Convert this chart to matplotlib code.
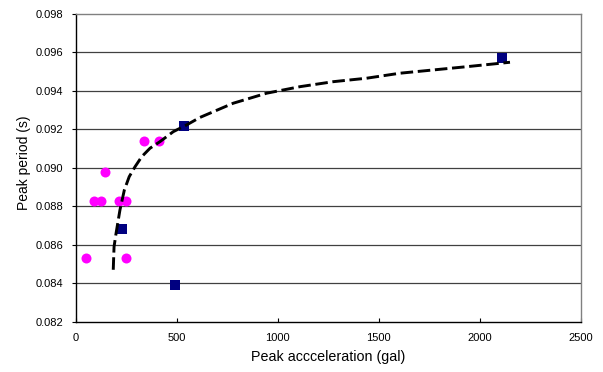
import matplotlib
matplotlib.use("Agg")
import matplotlib.pyplot as plt

plt.rcParams['font.family'] = ['Liberation Sans', 'DejaVu Sans']

# Magenta circles
circ_x = [51, 92, 125, 145, 216, 249, 249, 338, 412]
circ_y = [0.0853, 0.0883, 0.0883, 0.0898, 0.0883, 0.0883, 0.0853, 0.0914, 0.0914]

# Navy squares
sq_x = [229, 490, 535, 2109]
sq_y = [0.0868, 0.0839, 0.0922, 0.0957]

# Dashed trend curve
trend_x = [186, 190, 200, 219, 241, 265, 294, 327, 368, 417, 483, 549, 615,
           780, 945, 1110, 1275, 1440, 1605, 1770, 1936, 2150]
trend_y = [0.0847, 0.0859, 0.0866, 0.0878, 0.08885, 0.08954, 0.09006, 0.09058,
           0.09102, 0.09136, 0.09188, 0.09223, 0.09262, 0.09336, 0.09388,
           0.09422, 0.09448, 0.09466, 0.09492, 0.09509, 0.09526, 0.09549]

xticks = [0, 500, 1000, 1500, 2000, 2500]
yticks = [0.082, 0.084, 0.086, 0.088, 0.090, 0.092, 0.094, 0.096, 0.098]

fig = plt.figure(figsize=(6.03, 3.72), dpi=100)
ax = fig.add_axes([0.1255, 0.1352, 0.963 - 0.1255, 0.9624 - 0.1352])

for yv in yticks[1:-1]:
    ax.axhline(yv, color='#404040', lw=0.9, zorder=1)

ax.plot(circ_x, circ_y, 'o', color='#FF00FF', markersize=7.2, markeredgewidth=0, zorder=3)
ax.plot(sq_x, sq_y, 's', color='#000080', markersize=6.5, markeredgewidth=0, zorder=3)
ax.plot(trend_x, trend_y, color='black', lw=2.1, dashes=(4.3, 1.6), zorder=4)

ax.set_xlim(0, 2500)
ax.set_ylim(0.082, 0.098)
ax.set_xticks(xticks)
ax.set_yticks(yticks)
ax.set_xticklabels([str(v) for v in xticks])
ax.set_yticklabels([f"{v:.3f}" for v in yticks])
ax.tick_params(axis='x', direction='in', length=3, width=0.8, labelsize=8, pad=8)
ax.tick_params(axis='y', direction='out', length=3, width=0.8, labelsize=8, pad=6)

for s in ['left', 'bottom']:
    ax.spines[s].set_color('black')
    ax.spines[s].set_linewidth(1.0)
for s in ['top', 'right']:
    ax.spines[s].set_color('#808080')
    ax.spines[s].set_linewidth(1.0)

ax.set_xlabel('Peak accceleration (gal)', fontsize=10.3, labelpad=5)
ax.set_ylabel('Peak period (s)', fontsize=10, labelpad=6)
ax.yaxis.set_label_coords(-0.089, 0.517)

fig.savefig('out.png', dpi=100)
